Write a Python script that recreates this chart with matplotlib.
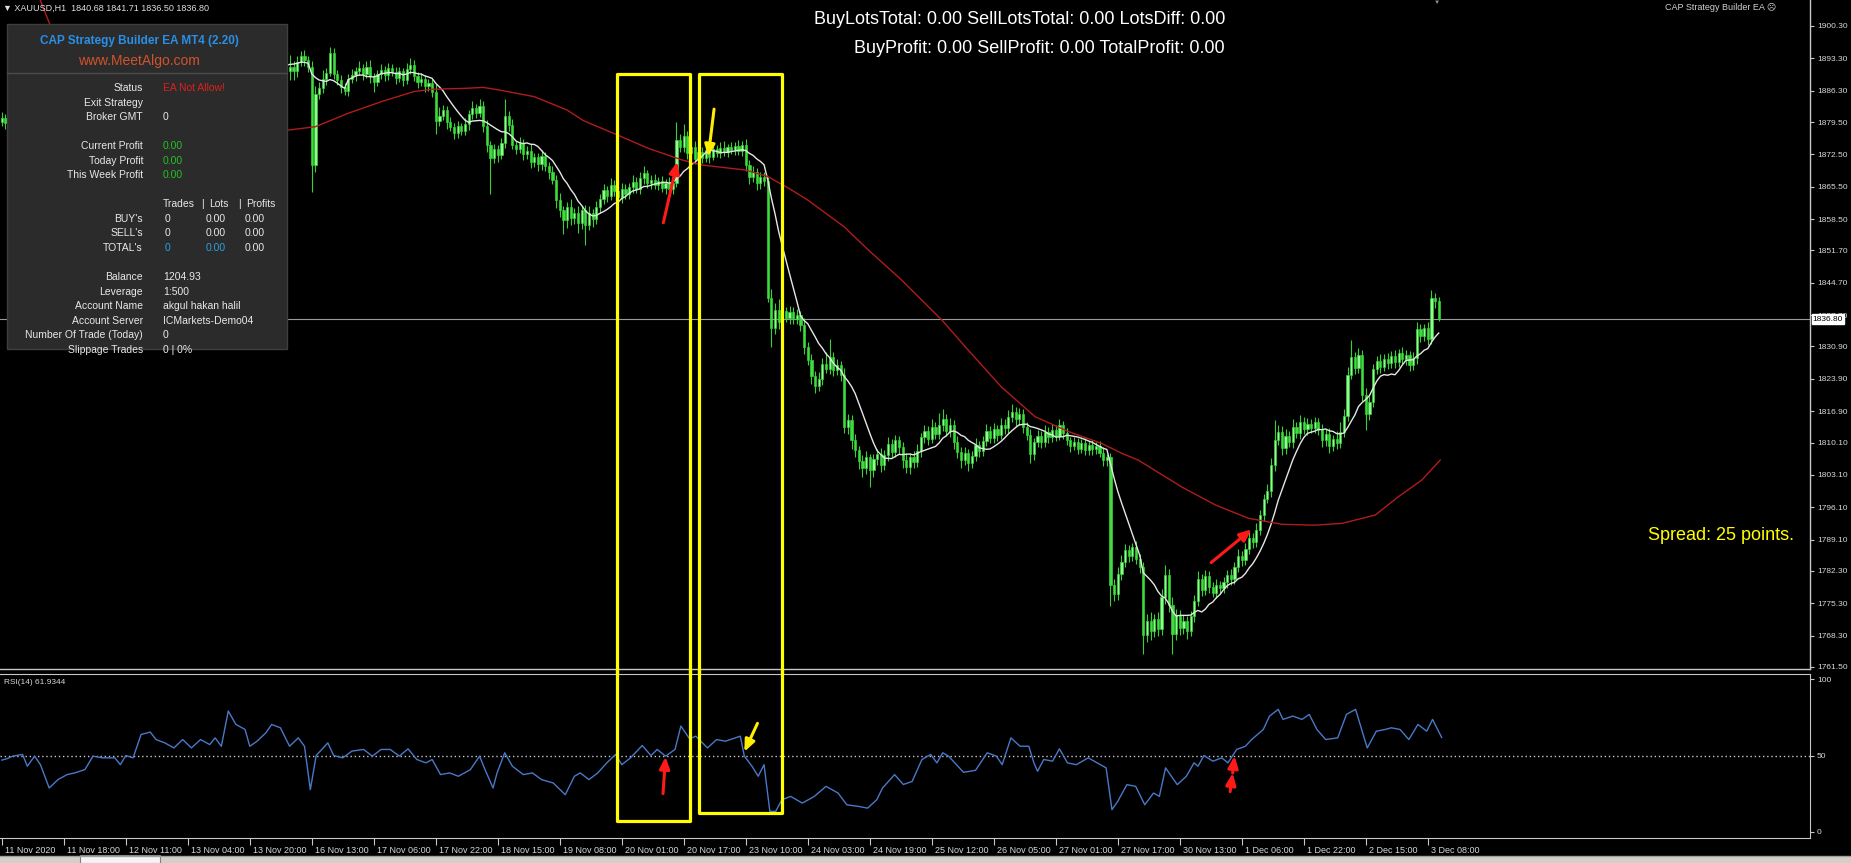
import numpy as np
import pandas as pd
import matplotlib
matplotlib.use("Agg")
import matplotlib.pyplot as plt
import matplotlib.transforms as mtransforms
from matplotlib.patches import Rectangle

plt.rcParams['font.family'] = ['Liberation Sans', 'DejaVu Sans']

# XAUUSD H1 candles, one close per bar (bar 0 = 11 Nov 2020)
first_open = 1879.6
closes = [
    1880.4, 1879.2, 1880.1, 1879.0, 1880.3, 1881.0, 1878.9, 1880.2, 1879.4, 1880.0,
    1878.6, 1877.8, 1875.2, 1872.9, 1873.8, 1873.1, 1874.5, 1874.0, 1875.2, 1874.9,
    1875.8, 1876.2, 1876.0, 1877.4, 1878.5, 1879.6, 1879.0, 1879.3, 1878.8, 1879.5,
    1879.0, 1879.6, 1878.2, 1879.9, 1879.4, 1879.7, 1880.5, 1883.0, 1885.4, 1886.0,
    1886.8, 1885.9, 1885.5, 1886.2, 1885.6, 1886.4, 1885.8, 1885.3, 1886.1, 1887.0,
    1886.2, 1886.8, 1887.3, 1886.5, 1887.6, 1886.9, 1887.2, 1888.0, 1887.4, 1888.3,
    1887.2, 1891.5, 1893.6, 1892.8, 1891.9, 1891.4, 1890.2, 1889.5, 1888.6, 1889.2,
    1889.9, 1890.8, 1891.6, 1892.9, 1893.8, 1893.2, 1893.6, 1892.1, 1890.6, 1891.4,
    1890.5, 1892.6, 1893.8, 1893.0, 1891.5, 1870.2, 1885.6, 1886.8, 1888.9, 1890.2,
    1894.4, 1890.0, 1888.6, 1887.1, 1886.2, 1888.9, 1889.6, 1890.6, 1891.2, 1890.0,
    1891.5, 1889.4, 1888.2, 1889.8, 1890.7, 1889.6, 1891.2, 1890.3, 1889.1, 1890.5,
    1888.6, 1890.9, 1891.8, 1889.4, 1888.2, 1888.9, 1887.3, 1887.9, 1886.0, 1879.8,
    1880.9, 1882.2, 1879.5, 1878.4, 1877.1, 1878.6, 1877.6, 1879.0, 1881.2, 1882.6,
    1881.5, 1883.0, 1878.6, 1874.5, 1871.8, 1873.6, 1872.4, 1874.9, 1880.8, 1878.9,
    1874.6, 1873.7, 1875.0, 1872.6, 1873.3, 1870.8, 1871.9, 1870.4, 1872.2, 1869.9,
    1868.6, 1867.0, 1862.6, 1860.4, 1858.2, 1861.0, 1858.7, 1859.9, 1857.6, 1860.5,
    1857.3, 1859.8, 1858.4, 1861.2, 1862.9, 1864.8, 1863.5, 1865.9, 1864.6, 1863.2,
    1865.1, 1863.9, 1865.4, 1866.6, 1865.0, 1867.3, 1868.4, 1866.2, 1867.0, 1865.8,
    1866.7, 1865.3, 1866.2, 1864.9, 1866.3, 1875.6, 1874.2, 1876.4, 1872.8, 1874.1,
    1871.6, 1873.0, 1871.8, 1873.4, 1872.0, 1873.6, 1872.9, 1873.8, 1873.1, 1874.0,
    1873.5, 1874.3, 1873.2, 1874.6, 1870.2, 1867.5, 1868.6, 1866.3, 1867.6, 1866.8,
    1841.5, 1834.8, 1838.9, 1836.2, 1838.6, 1837.1, 1838.4, 1836.9, 1837.8, 1835.6,
    1830.8, 1828.0, 1824.6, 1822.4, 1823.8, 1827.2, 1826.1, 1828.6, 1825.8, 1826.9,
    1824.8, 1813.5, 1815.0, 1810.6, 1808.4, 1806.2, 1804.6, 1806.9, 1804.1, 1806.5,
    1807.6, 1805.2, 1807.3, 1809.8, 1808.1, 1810.6, 1809.2, 1806.4, 1804.9, 1807.0,
    1805.8, 1808.3, 1811.2, 1812.6, 1810.9, 1813.4, 1812.0, 1813.9, 1815.2, 1812.5,
    1814.0, 1810.3, 1808.1, 1806.4, 1807.9, 1805.6, 1807.2, 1809.5, 1808.3, 1810.4,
    1812.6, 1811.1, 1813.0, 1811.8, 1814.0, 1813.2, 1815.6, 1816.8, 1815.1, 1816.3,
    1813.4, 1811.7, 1807.6, 1810.2, 1811.5, 1810.3, 1812.4, 1811.2, 1812.9, 1811.6,
    1813.8, 1812.1, 1810.6, 1809.4, 1810.2, 1808.8, 1809.9, 1808.4, 1809.6, 1808.7,
    1809.3, 1807.9, 1806.3, 1806.9, 1779.2, 1777.4, 1781.6, 1784.3, 1786.8, 1785.6,
    1787.4, 1784.9, 1783.1, 1768.4, 1771.5, 1769.2, 1771.9, 1769.8, 1776.6, 1781.5,
    1775.0, 1768.6, 1772.8, 1769.9, 1771.4, 1769.2, 1772.6, 1775.8, 1780.6, 1778.2,
    1781.1, 1778.9, 1777.6, 1779.2, 1778.5, 1779.8, 1781.4, 1780.5, 1783.2, 1785.6,
    1784.6, 1787.1, 1789.4, 1788.5, 1791.2, 1794.3, 1797.9, 1799.6, 1805.2, 1810.6,
    1812.3, 1808.9, 1811.5, 1810.2, 1813.4, 1812.1, 1814.6, 1813.0, 1814.2, 1813.3,
    1814.5, 1812.8, 1810.6, 1811.9, 1809.4, 1810.8, 1809.9, 1812.4, 1815.9, 1824.8,
    1828.6, 1826.3, 1829.1, 1820.4, 1816.2, 1818.9, 1826.0, 1827.8, 1826.5, 1828.2,
    1827.3, 1828.9, 1827.6, 1829.4, 1828.1, 1829.0, 1826.9, 1828.4, 1834.6, 1833.1,
    1834.8, 1832.5, 1841.3, 1840.7, 1836.8,
]
# wick length above / below the body of each candle (dollars)
upper_wick = [
    1.2, 0.8, 1.0, 1.5, 0.7, 1.1, 0.9, 1.3, 0.6, 1.0,
    0.8, 1.2, 1.0, 0.9, 1.4, 0.7, 1.0, 1.2, 0.8, 1.1,
    0.9, 1.0, 1.3, 0.8, 1.1, 0.7, 1.2, 0.9, 1.0, 0.8,
    1.1, 0.9, 1.3, 0.7, 1.0, 1.2, 0.8, 1.4, 1.0, 1.1,
    0.9, 1.2, 0.8, 1.0, 1.3, 0.7, 1.1, 0.9, 1.0, 1.2,
    0.8, 1.1, 0.9, 1.2, 0.7, 1.0, 1.3, 0.8, 1.1, 0.9,
    1.0, 1.5, 1.2, 0.8, 1.0, 1.1, 0.9, 1.2, 0.8, 1.0,
    1.1, 0.9, 1.2, 1.0, 0.8, 1.1, 0.9, 1.0, 1.2, 2.6,
    1.4, 1.2, 1.0, 1.4, 0.8, 1.2, 1.6, 1.3, 1.8, 0.9,
    1.4, 1.2, 0.8, 1.1, 0.9, 1.0, 1.3, 0.9, 1.6, 0.8,
    1.2, 1.5, 0.7, 1.0, 1.4, 0.9, 1.1, 0.8, 1.2, 1.0,
    0.7, 1.3, 1.5, 1.1, 0.9, 1.2, 0.8, 1.0, 0.9, 1.8,
    1.9, 1.0, 0.8, 1.2, 0.9, 1.1, 0.7, 1.3, 1.0, 1.4,
    0.9, 1.6, 1.0, 1.3, 0.8, 1.2, 0.9, 1.1, 3.8, 1.0,
    1.2, 0.8, 1.3, 0.9, 1.1, 1.4, 0.8, 1.0, 1.2, 0.9,
    1.0, 1.3, 1.1, 1.5, 0.9, 1.2, 1.8, 1.0, 1.4, 0.9,
    1.1, 1.6, 0.8, 1.2, 1.0, 1.3, 0.9, 1.5, 1.1, 0.8,
    1.2, 1.0, 0.9, 1.4, 1.1, 1.3, 1.5, 0.8, 1.0, 1.2,
    0.9, 1.1, 1.0, 1.3, 0.8, 3.9, 1.4, 2.6, 1.2, 1.0,
    1.3, 0.9, 1.1, 0.8, 1.2, 1.0, 0.9, 1.3, 1.6, 0.8,
    1.1, 0.9, 1.4, 0.8, 1.2, 1.0, 1.3, 0.9, 1.1, 1.0,
    0.8, 1.8, 1.4, 2.2, 1.1, 0.9, 1.3, 1.0, 1.2, 0.8,
    1.4, 1.0, 1.2, 0.9, 1.5, 1.1, 2.4, 4.0, 1.0, 1.3,
    0.9, 1.5, 1.2, 1.0, 1.3, 0.9, 1.1, 1.4, 0.8, 1.2,
    1.0, 1.3, 1.1, 1.6, 1.0, 1.2, 0.9, 1.1, 1.4, 0.8,
    1.2, 1.5, 1.0, 1.3, 1.1, 1.8, 1.2, 2.6, 2.2, 1.0,
    1.4, 0.9, 1.2, 1.0, 1.3, 0.8, 1.1, 1.5, 1.0, 1.2,
    1.6, 1.0, 1.3, 0.9, 1.4, 1.2, 1.5, 1.6, 1.1, 1.3,
    1.0, 1.2, 1.4, 0.9, 1.3, 1.0, 1.5, 1.1, 1.2, 0.9,
    1.4, 1.0, 1.1, 0.8, 1.2, 0.9, 1.0, 1.1, 0.8, 1.0,
    0.9, 1.1, 1.2, 0.8, 1.0, 1.3, 1.6, 1.4, 1.3, 1.2,
    1.0, 1.4, 1.1, 1.2, 1.5, 1.8, 1.0, 1.4, 1.8, 2.1,
    1.2, 1.6, 1.3, 1.0, 1.4, 1.2, 1.1, 1.3, 1.6, 1.0,
    1.4, 1.1, 1.0, 1.3, 0.9, 1.2, 1.0, 1.3, 1.1, 1.4,
    1.0, 1.2, 1.3, 1.1, 1.4, 1.2, 1.0, 1.5, 1.6, 4.4,
    1.5, 1.3, 1.6, 1.1, 1.8, 1.2, 1.4, 1.0, 1.3, 1.1,
    1.2, 1.0, 1.4, 1.1, 1.3, 0.9, 1.8, 2.2, 1.4, 1.6,
    3.7, 1.2, 1.4, 1.0, 1.5, 1.3, 1.2, 1.0, 1.4, 1.1,
    1.3, 1.0, 1.2, 0.9, 1.4, 1.1, 1.0, 1.3, 1.5, 1.2,
    1.0, 1.4, 1.8, 1.2, 1.0,
]
lower_wick = [
    1.0, 1.3, 0.8, 1.1, 0.9, 1.2, 1.0, 0.7, 1.2, 0.9,
    1.1, 0.9, 1.4, 1.6, 1.0, 1.2, 0.8, 1.1, 0.9, 1.0,
    1.2, 0.8, 1.0, 0.9, 1.1, 1.0, 1.3, 0.8, 1.2, 0.9,
    1.0, 1.2, 0.9, 1.1, 0.8, 1.0, 1.2, 0.9, 1.1, 1.0,
    1.1, 0.9, 1.2, 0.8, 1.0, 1.1, 0.9, 1.2, 0.8, 1.0,
    1.2, 0.9, 1.0, 1.1, 0.8, 1.2, 1.0, 0.9, 1.1, 1.0,
    0.9, 1.1, 1.0, 1.2, 0.8, 1.0, 1.1, 0.9, 1.2, 1.0,
    1.0, 1.2, 0.9, 1.1, 1.0, 0.8, 1.2, 1.0, 1.1, 1.9,
    2.0, 1.2, 0.9, 1.3, 1.1, 5.8, 1.6, 1.2, 1.0, 1.4,
    0.8, 1.2, 1.0, 1.3, 0.9, 1.1, 1.0, 1.2, 0.9, 1.3,
    1.0, 1.4, 2.2, 1.0, 0.9, 1.2, 1.1, 0.8, 1.3, 1.0,
    1.2, 0.9, 1.1, 1.0, 1.3, 0.8, 1.2, 1.0, 1.1, 2.8,
    1.2, 1.0, 1.4, 0.9, 1.3, 1.1, 1.0, 0.8, 1.2, 1.0,
    1.1, 0.9, 1.3, 1.4, 7.9, 1.2, 1.5, 1.0, 1.1, 1.3,
    1.0, 1.2, 0.9, 1.4, 1.1, 1.3, 1.0, 1.6, 1.2, 1.1,
    1.4, 1.0, 1.8, 1.5, 3.0, 1.6, 1.4, 1.2, 2.1, 1.3,
    4.5, 1.2, 1.6, 1.0, 1.3, 1.1, 1.4, 0.9, 1.2, 1.0,
    1.3, 1.1, 1.0, 1.2, 0.9, 1.1, 1.3, 1.0, 1.2, 0.9,
    1.1, 1.0, 1.4, 1.2, 1.0, 0.9, 1.2, 1.1, 1.3, 1.0,
    1.2, 0.9, 1.1, 1.0, 1.3, 0.8, 1.0, 1.2, 0.9, 1.1,
    1.0, 1.2, 0.9, 1.1, 1.3, 1.4, 1.0, 1.6, 1.2, 1.1,
    1.0, 4.0, 1.3, 1.6, 1.2, 1.0, 1.4, 1.1, 1.2, 1.3,
    1.5, 1.2, 1.8, 1.6, 1.1, 1.3, 1.0, 1.2, 1.4, 1.1,
    1.3, 1.4, 1.6, 2.0, 1.5, 1.8, 2.0, 1.3, 3.6, 1.4,
    1.2, 1.5, 1.0, 1.3, 1.1, 1.2, 1.6, 1.9, 1.3, 1.6,
    1.2, 1.0, 1.3, 1.1, 1.4, 1.0, 1.2, 1.1, 1.3, 1.0,
    1.2, 1.5, 1.3, 1.8, 1.2, 1.6, 1.1, 1.0, 1.3, 1.2,
    1.0, 1.2, 1.1, 1.3, 1.0, 1.2, 1.1, 1.0, 1.4, 1.2,
    1.3, 1.1, 2.0, 1.2, 1.0, 1.3, 1.1, 1.2, 1.0, 1.1,
    1.0, 1.2, 1.1, 1.3, 1.0, 1.2, 0.9, 1.1, 1.0, 1.2,
    1.1, 1.0, 1.3, 1.2, 4.6, 1.6, 1.3, 1.2, 1.1, 1.4,
    1.2, 1.1, 1.3, 4.0, 1.5, 1.8, 1.2, 1.6, 1.3, 1.4,
    1.6, 4.2, 1.3, 1.5, 1.2, 1.6, 1.1, 1.3, 1.2, 1.4,
    1.1, 1.3, 1.0, 1.2, 1.1, 1.0, 1.3, 1.2, 1.0, 1.1,
    1.2, 1.0, 1.1, 1.3, 1.0, 1.2, 1.1, 1.0, 1.2, 1.3,
    1.1, 1.6, 1.2, 1.0, 1.3, 1.1, 1.2, 1.0, 1.3, 1.1,
    1.2, 1.0, 1.5, 1.2, 1.6, 1.1, 1.3, 1.0, 1.2, 1.1,
    1.0, 1.3, 1.2, 1.4, 3.4, 1.2, 1.0, 1.1, 1.3, 1.0,
    1.2, 1.0, 1.3, 1.1, 1.0, 1.2, 1.4, 1.0, 1.2, 1.3,
    1.1, 1.2, 1.0, 1.4, 0.3,
]

# red moving average, read at a few bars
red_ma_bar = [0, 5, 10, 14, 18, 22, 28, 40, 60, 79, 86, 95, 104, 113, 118, 127, 132, 136,
              146, 155, 159.5, 168.8, 177.3, 186.5, 192, 204, 210, 215.7, 221, 231, 237.6,
              246.7, 257.8, 265, 274, 283.3, 292.4, 301.6, 307, 311.6, 323.5, 332.7, 341.8,
              351, 360, 367.5, 376.6, 383, 389.4, 394.4]
red_ma_val = [1928, 1917, 1907, 1899, 1891, 1885, 1880, 1878, 1877.5, 1877.8, 1878.5, 1881.4,
              1883.9, 1886.1, 1886.6, 1886.8, 1887.0, 1886.5, 1885.0, 1882.1, 1879.8, 1876.7,
              1873.8, 1871.3, 1870.2, 1869.1, 1867.7, 1865.2, 1862.6, 1856.8, 1851.8, 1845.3,
              1836.6, 1830.1, 1822.2, 1815.7, 1812.5, 1809.9, 1807.8, 1806.3, 1800.5, 1796.6,
              1793.7, 1792.4, 1792.2, 1792.6, 1794.4, 1798.4, 1802.0, 1806.3]

# RSI(14) read from the lower window
rsi_bar = [0, 1.5, 3, 5.7, 7, 9, 10.6, 13, 15.4, 17.9, 20, 22.8, 25, 27.6, 31, 32.5, 34, 36,
           38.2, 40.7, 42.3, 44.7, 47.2, 49.6, 52, 54.5, 57, 58.5, 60.2, 62.1, 64.2, 66.7, 68,
           70, 72.4, 74, 76.4, 78.9, 81.3, 83, 84.6, 86.2, 89.4, 91, 93.5, 96, 99.2, 101.6,
           104, 106.5, 109, 111.4, 113.8, 116.3, 118, 120.3, 122.8, 125.2, 128.5, 131, 132.5,
           134.7, 135.8, 137.9, 140, 143, 145.5, 148, 151.2, 154.5, 157, 158.6, 161, 163.4,
           165.9, 168.3, 170, 172.4, 175.6, 178, 179.7, 182, 184.6, 186.2, 188.6, 190.3,
           193.5, 196, 198.4, 202.5, 203.6, 205.7, 207.4, 209, 210.6, 212.2, 213.9, 216.3,
           219.5, 222.8, 226, 229.3, 231.7, 235, 237.4, 239.9, 241.5, 244.8, 247.2, 249.6,
           252.3, 254.7, 256.4, 258, 259.6, 263.7, 267, 270.2, 272.7, 274.3, 276.7, 279.2,
           281.6, 283, 284, 285.7, 288.1, 290, 292.2, 294.6, 297.9, 301.2, 302.8, 304.4, 306,
           308.5, 310.9, 313.4, 315.8, 317.4, 319.1, 320.7, 322.3, 324.8, 326.9, 328, 329.6,
           332.1, 334.5, 336.2, 338.6, 341, 342.7, 345.9, 347.6, 350, 351.3, 354, 356.5,
           358.5, 360.6, 363, 366.3, 368.7, 371.2, 374.4, 376.9, 379.3, 381, 383.4, 385.8,
           388.3, 390.7, 392.3, 394.8]
rsi_val = [47, 48, 49.6, 50.7, 43, 49.6, 44, 28.7, 34.2, 37.5, 38.6, 40.8, 49.6, 48.5, 48.5, 44,
           50, 48.5, 63.8, 65.4, 60.5, 58.3, 55, 60.5, 55, 60.5, 57.2, 61.6, 56.1, 79.2, 70.4,
           67.1, 56.1, 59.4, 64.9, 70.4, 68.2, 56.1, 61.6, 56.1, 27.6, 50, 58.3, 50, 48.5,
           52.9, 54, 49.6, 54, 54, 49.6, 54.4, 47.4, 45.2, 47.4, 37.5, 38.6, 36.4, 40.8, 49.6,
           40.8, 28.7, 38.6, 51.8, 43, 37.5, 38.6, 34.2, 32, 24.3, 36.4, 38.6, 34.2, 38.6,
           45.2, 50.7, 44, 48.5, 56.6, 50, 54, 49.6, 54, 69.3, 61, 62.7, 55, 60.5, 59.4, 62.7,
           49.6, 43, 36.4, 44, 13.4, 13.4, 21, 23.2, 18.8, 23.2, 29.8, 25.4, 17.7, 16.6, 15.5,
           21, 28.7, 37.5, 31, 33, 47.4, 50.7, 45.2, 51.8, 49.6, 39, 40.3, 51.8, 49.6, 44,
           61.6, 56.1, 56.1, 45.2, 39.7, 47.4, 46.3, 54.4, 45.2, 44, 48.5, 44, 41.9, 14.5, 20,
           30.9, 29.8, 17.7, 25.4, 23.2, 41.9, 36.4, 30.9, 36.4, 45.2, 43, 50, 46.3, 48.5,
           45.2, 54, 56.1, 60.5, 67.1, 75.9, 80.3, 73.7, 75.9, 73.7, 77, 67.1, 60.5, 61.6, 77,
           80.3, 55, 66, 67.1, 68.2, 67.1, 60.5, 70.4, 66, 73.7, 61.9]

date_labels = ["11 Nov 2020", "11 Nov 18:00", "12 Nov 11:00", "13 Nov 04:00", "13 Nov 20:00",
               "16 Nov 13:00", "17 Nov 06:00", "17 Nov 22:00", "18 Nov 15:00", "19 Nov 08:00",
               "20 Nov 01:00", "20 Nov 17:00", "23 Nov 10:00", "24 Nov 03:00", "24 Nov 19:00",
               "25 Nov 12:00", "26 Nov 05:00", "27 Nov 01:00", "27 Nov 17:00", "30 Nov 13:00",
               "1 Dec 06:00", "1 Dec 22:00", "2 Dec 15:00", "3 Dec 08:00"]
price_ticks = [1900.30, 1893.30, 1886.30, 1879.50, 1872.50, 1865.50, 1858.50, 1851.70,
               1844.70, 1837.70, 1830.90, 1823.90, 1816.90, 1810.10, 1803.10, 1796.10,
               1789.10, 1782.30, 1775.30, 1768.30, 1761.50]
last_price = 1836.80

# highlighted zones (bar from, bar to, top price, bottom RSI) and arrows
boxes = [(168.8, 188.7, 1889.9, 7.2), (191.2, 213.9, 1889.9, 12.2)]

GRID = '#c8c8c8'
TXT = '#d8d8d8'

fig = plt.figure(figsize=(18.51, 8.63), dpi=100, facecolor='black')
ax = fig.add_axes([0, 0.2248, 0.97785, 0.7752], facecolor='black')
ax2 = fig.add_axes([0, 0.02897, 0.97785, 0.19003], facecolor='black')

xlim = (-0.49, 495.8)

# candles
c = np.array(closes)
o = np.concatenate([[first_open], c[:-1]])
idx = np.arange(len(c))
hi = np.maximum(o, c) + np.array(upper_wick)
lo = np.minimum(o, c) - np.array(lower_wick)
up = c >= o
body = np.maximum(np.abs(c - o), 0.12)
ax.vlines(idx, lo, hi, color='#38d038', lw=0.8, zorder=2)
ax.bar(idx[up], body[up], bottom=np.minimum(o, c)[up], width=0.6,
       color='#9af59a', edgecolor='#2ed42e', linewidth=0.5, zorder=3)
ax.bar(idx[~up], body[~up], bottom=np.minimum(o, c)[~up], width=0.6,
       color='#45d845', edgecolor='#2ed42e', linewidth=0.5, zorder=3)

# moving averages
white_ma = pd.Series(c).rolling(10).mean()
ax.plot(idx, white_ma, color='#e6e6e6', lw=1, zorder=4)
ax.plot(red_ma_bar, red_ma_val, color='#b01c1c', lw=1, zorder=4)

ax.axhline(last_price, color='#9a9a9a', lw=0.8, zorder=1)

ax.set_xlim(*xlim)
ax.set_ylim(1761.06, 1905.93)
ax.set_xticks([])
ax.yaxis.tick_right()
ax.set_yticks(price_ticks)
ax.set_yticklabels([f"{p:.2f}" for p in price_ticks])
ax.tick_params(axis='y', colors=GRID, labelcolor=TXT, labelsize=6, length=3, pad=2, width=0.8)
for s in ['left', 'top']:
    ax.spines[s].set_visible(False)
for s in ['right', 'bottom']:
    ax.spines[s].set_color(GRID)
    ax.spines[s].set_linewidth(1)

# current price box
ax.annotate(f"{last_price:.2f}", xy=(1.0, last_price), xycoords=ax.get_yaxis_transform(),
            xytext=(2, 0), textcoords='offset points', va='center', ha='left',
            fontsize=6, color='black', annotation_clip=False, zorder=10,
            bbox=dict(boxstyle='square,pad=0.15', fc='white', ec='white'))

# RSI window
ax2.plot(rsi_bar, rsi_val, color='#4a78c8', lw=1, zorder=3)
ax2.axhline(50, color='#c8c8c8', lw=1, ls=(0, (1, 2)), zorder=2)
ax2.set_xlim(*xlim)
ax2.set_ylim(-4.1, 103.5)
ax2.yaxis.tick_right()
ax2.set_yticks([0, 50, 100])
ax2.set_yticklabels(['0', '50', '100'])
ax2.set_xticks([k * 17 for k in range(len(date_labels))])
ax2.set_xticklabels(date_labels)
ax2.tick_params(axis='y', colors=GRID, labelcolor=TXT, labelsize=6, length=3, pad=2)
ax2.tick_params(axis='x', colors=GRID, labelcolor=TXT, labelsize=6.5, length=5, pad=1)
shift = mtransforms.ScaledTranslation(2 / 72, 0, fig.dpi_scale_trans)
for lbl in ax2.get_xticklabels():
    lbl.set_horizontalalignment('left')
    lbl.set_transform(lbl.get_transform() + shift)
ax2.spines['left'].set_visible(False)
for s in ['right', 'bottom', 'top']:
    ax2.spines[s].set_color(GRID)
ax2.text(0.002, 0.97, "RSI(14) 61.9344", transform=ax2.transAxes, fontsize=6,
         color=TXT, va='top', ha='left')

# yellow zones across both windows
for x0, x1, top, bot in boxes:
    ax.plot([x0, x0, x1, x1], [1759.9, top, top, 1759.9], color='#ffff00', lw=2.3,
            clip_on=False, zorder=6)
    ax2.plot([x0, x0, x1, x1], [106, bot, bot, 106], color='#ffff00', lw=2.3,
             clip_on=False, zorder=6)

def arrow(a, start, end, color):
    a.annotate('', xy=end, xytext=start,
               arrowprops=dict(arrowstyle='-|>,head_length=0.7,head_width=0.3',
                               color=color, lw=2.2, shrinkA=0, shrinkB=0), zorder=7)

arrow(ax, (181.4, 1857.7), (185.2, 1870.9), '#ff1a1a')
arrow(ax, (195.3, 1882.3), (193.7, 1872.0), '#ffee00')
arrow(ax, (331.6, 1784.1), (342.7, 1791.3), '#ff1a1a')
arrow(ax2, (181.3, 25), (182.0, 49.2), '#ff1a1a')
arrow(ax2, (207.2, 71.1), (203.6, 52.5), '#ffee00')
arrow(ax2, (336.8, 26.3), (337.5, 38.5), '#ff1a1a')
arrow(ax2, (337.5, 38.5), (338.0, 49.7), '#ff1a1a')

# overlay in pixel units for the terminal texts and EA panel
ov = fig.add_axes([0, 0, 1, 1], facecolor='none')
ov.set_xlim(0, 1851)
ov.set_ylim(863, 0)
ov.axis('off')

ov.text(3, 8, "\u25bc XAUUSD,H1  1840.68 1841.71 1836.50 1836.80", fontsize=6.5,
        color='#e0e0e0', va='center', ha='left')
ov.text(1776, 8, "CAP Strategy Builder EA \u2639", fontsize=6.5, color='#d0d0d0',
        va='center', ha='right')
ov.text(1437, 2, "\u25bc", fontsize=4.5, color='#909090', va='center', ha='center')
ov.text(1225, 20, "BuyLotsTotal: 0.00 SellLotsTotal: 0.00 LotsDiff: 0.00", fontsize=13,
        color='white', va='center', ha='right')
ov.text(1225, 48.5, "BuyProfit: 0.00 SellProfit: 0.00 TotalProfit: 0.00", fontsize=13,
        color='white', va='center', ha='right')
ov.text(1648, 535, "Spread: 25 points.", fontsize=13, color='#ffff00', va='center', ha='left')

# EA dashboard
ov.add_patch(Rectangle((7, 24), 280, 325, facecolor='#2b2b2b', edgecolor='#3e3e3e', lw=1,
                       zorder=1))
ov.plot([7, 287], [72.7, 72.7], color='#4a4a4a', lw=1, zorder=2)
ov.text(139, 41, "CAP Strategy Builder EA MT4 (2.20)", fontsize=8.5, fontweight='bold',
        color='#2a8fe6', ha='center', va='center', zorder=3)
ov.text(139, 60.5, "www.MeetAlgo.com", fontsize=10, color='#d0532b', ha='center',
        va='center', zorder=3)

WHITE = '#e8e8e8'
GREEN = '#22c322'
BLUE = '#2aa0dc'
rows = [
    (88.3, "Status", "EA Not Allow!", '#e01e1e'),
    (102.7, "Exit Strategy", "", WHITE),
    (117.3, "Broker GMT", "0", WHITE),
    (146.0, "Current Profit", "0.00", GREEN),
    (160.7, "Today Profit", "0.00", GREEN),
    (175.0, "This Week Profit", "0.00", GREEN),
    (277.0, "Balance", "1204.93", WHITE),
    (292.0, "Leverage", "1:500", WHITE),
    (306.3, "Account Name", "akgul hakan halil", WHITE),
    (321.3, "Account Server", "ICMarkets-Demo04", WHITE),
    (335.0, "Number Of Trade (Today)", "0", WHITE),
    (350.0, "Slippage Trades", "0 | 0%", WHITE),
]
for y, label, value, col in rows:
    ov.text(143, y, label, fontsize=7.5, color=WHITE, ha='right', va='center', zorder=3)
    ov.text(163, y, value, fontsize=7.5, color=col, ha='left', va='center', zorder=3)

for x, s in [(163, "Trades"), (201, "|"), (209, "Lots"), (238, "|"), (246, "Profits")]:
    ov.text(x, 204, s, fontsize=7.5, color=WHITE, ha='left', va='center', zorder=3)
trade_rows = [
    (219.0, "BUY's", [("0", WHITE), ("0.00", WHITE), ("0.00", WHITE)]),
    (233.3, "SELL's", [("0", WHITE), ("0.00", WHITE), ("0.00", WHITE)]),
    (248.0, "TOTAL's", [("0", BLUE), ("0.00", BLUE), ("0.00", WHITE)]),
]
for y, label, cells in trade_rows:
    ov.text(143, y, label, fontsize=7.5, color=WHITE, ha='right', va='center', zorder=3)
    for x, (s, col) in zip([165, 206, 245], cells):
        ov.text(x, y, s, fontsize=7.5, color=col, ha='left', va='center', zorder=3)

# terminal tab strip at the bottom
ov.add_patch(Rectangle((0, 856), 1851, 7, facecolor='#d4d0c8', edgecolor='none'))
ov.add_patch(Rectangle((80, 855), 80, 8, facecolor='#f4f4f4', edgecolor='#808080', lw=0.8))
ov.plot([0, 1851], [856, 856], color='#a0a0a0', lw=1)

fig.savefig('out.png', dpi=100, facecolor='black')
